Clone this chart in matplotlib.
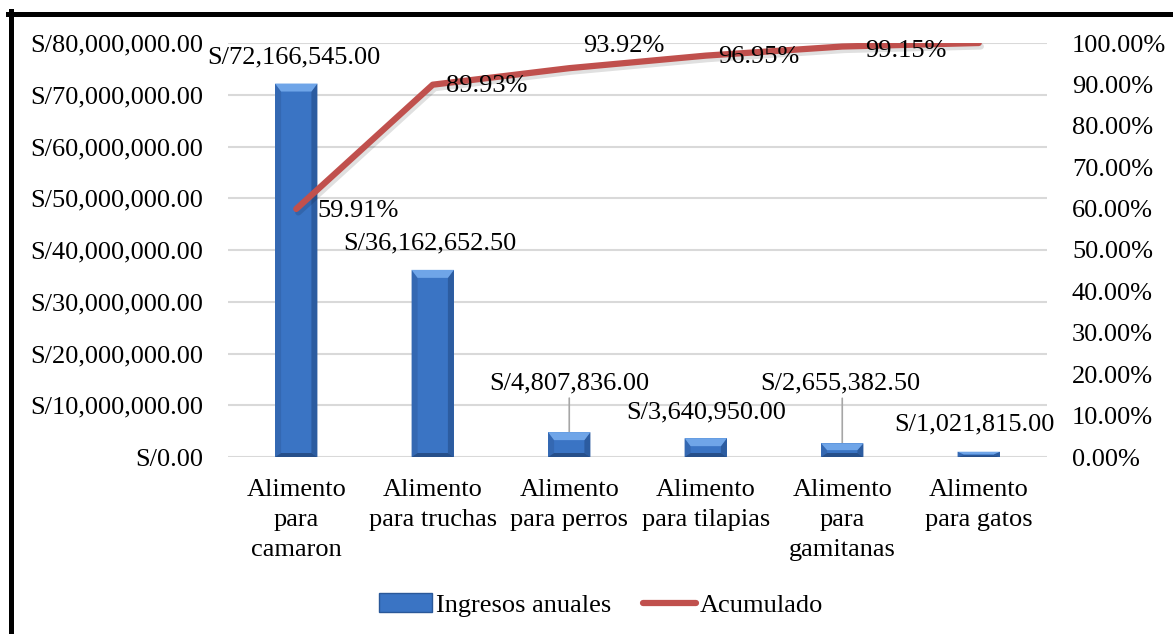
import matplotlib.pyplot as plt
import matplotlib.patheffects as pe
from matplotlib.lines import Line2D
from matplotlib.patches import Polygon, Rectangle
from matplotlib.ticker import FuncFormatter, MultipleLocator

plt.rcParams['font.family'] = ['Liberation Serif', 'DejaVu Serif']
plt.rcParams['font.size'] = 19

# Ingresos por producto
productos = ['Alimento\npara\ncamaron', 'Alimento\npara truchas', 'Alimento\npara perros',
             'Alimento\npara tilapias', 'Alimento\npara\ngamitanas', 'Alimento\npara gatos']
ingresos = [72166545.00, 36162652.50, 4807836.00, 3640950.00, 2655382.50, 1021815.00]
acumulado = [59.91, 89.93, 93.92, 96.95, 99.15, 100.00]

# posiciones de las etiquetas (desplazamiento en pixeles) y lineas guia
off_ingresos = [(-2, 26), (-3, 26), (0, 49), (0, 26), (-2, 60), (-4, 27)]
guia = [False, False, True, False, True, False]
off_acum = [(62, -2), (54, -1), (55, 22), (53, -1), (64, -4), None]

azul = '#3A74C4'
rojo = '#C0504D'
gris = '#D9D9D9'

W, H = 1173, 634
fig = plt.figure(figsize=(W / 100, H / 100), dpi=100)
ax = fig.add_axes([228 / W, 177 / H, 819 / W, 414 / H])
ax2 = ax.twinx()

x = list(range(len(productos)))
barras = ax.bar(x, ingresos, width=0.31, color=azul, zorder=2)
ax.set_xlim(-0.5, len(productos) - 0.5)
ax.set_ylim(0, 80000000)
ax.yaxis.set_major_locator(MultipleLocator(10000000))
ax.yaxis.set_major_formatter(FuncFormatter(lambda v, p: 'S/{:,.2f}'.format(v)))
ax.set_xticks(x)
ax.set_xticklabels(productos, linespacing=1.45)
ax.grid(axis='y', color=gris, linewidth=1.5, zorder=0)
ax.set_axisbelow(True)
ax.tick_params(axis='y', length=0, pad=18)
ax.tick_params(axis='x', length=0, pad=16)
for s in ax.spines.values():
    s.set_visible(False)

# efecto biselado de las barras
px_x = 6.0 / 819 * (len(productos))
px_y = 80000000 / 414
for r in barras:
    x0, y0 = r.get_x(), r.get_y()
    x1, y1 = x0 + r.get_width(), y0 + r.get_height()
    bx = px_x
    by = min(8 * px_y, r.get_height() / 2)
    bb = min(4 * px_y, r.get_height() / 3)
    ax.add_patch(Polygon([(x0, y0), (x0, y1), (x0 + bx, y1 - by), (x0 + bx, y0 + bb)],
                         color='#3468B2', lw=0, zorder=2.1))
    ax.add_patch(Polygon([(x1, y0), (x1, y1), (x1 - bx, y1 - by), (x1 - bx, y0 + bb)],
                         color='#2C5CA0', lw=0, zorder=2.1))
    ax.add_patch(Polygon([(x0, y0), (x1, y0), (x1 - bx, y0 + bb), (x0 + bx, y0 + bb)],
                         color='#264F8A', lw=0, zorder=2.1))
    ax.add_patch(Polygon([(x0, y1), (x1, y1), (x1 - bx, y1 - by), (x0 + bx, y1 - by)],
                         color='#6FA5E8', lw=0, zorder=2.1))

# etiquetas de ingresos
for i, v in enumerate(ingresos):
    dx, dy = off_ingresos[i]
    ax.annotate('S/{:,.2f}'.format(v), xy=(i, v), xytext=(dx, dy),
                textcoords='offset pixels', ha='center', va='center', zorder=5)
    if guia[i]:
        ax.annotate('', xy=(i, v), xytext=(0, dy - 15), textcoords='offset pixels',
                    arrowprops=dict(arrowstyle='-', color='#A6A6A6', lw=1.2,
                                    shrinkA=0, shrinkB=0), zorder=1.5)

# curva acumulada
ax2.plot(x, acumulado, color=rojo, lw=4.5, solid_capstyle='round', zorder=3,
         path_effects=[pe.SimpleLineShadow(offset=(1.5, -2.5), alpha=0.12, shadow_color='black'),
                       pe.Normal()])
ax2.set_ylim(0, 100)
ax2.yaxis.set_major_locator(MultipleLocator(10))
ax2.yaxis.set_major_formatter(FuncFormatter(lambda v, p: '{:.2f}%'.format(v)))
ax2.tick_params(axis='y', length=0, pad=18)
for s in ax2.spines.values():
    s.set_visible(False)

for i, v in enumerate(acumulado):
    if off_acum[i] is None:
        continue
    ax2.annotate('{:.2f}%'.format(v), xy=(i, v), xytext=off_acum[i],
                 textcoords='offset pixels', ha='center', va='center', zorder=5)

# leyenda
h_bar = Rectangle((0, 0), 1, 1, facecolor=azul, edgecolor='#2A5899', lw=1)
h_lin = Line2D([0], [0], color=rojo, lw=4.5, solid_capstyle='round')
fig.legend([h_bar, h_lin], ['Ingresos anuales', 'Acumulado'], loc='center',
           bbox_to_anchor=(601 / W, 29 / H), ncol=2, frameon=False,
           handlelength=2.0, handletextpad=0.15, columnspacing=1.2)

# marco
fig.add_artist(Line2D([10.5 / W, 10.5 / W], [0, 1 - 11 / H], color='black', lw=3.6,
                      transform=fig.transFigure))
fig.add_artist(Line2D([8 / W, 1], [1 - 13.5 / H, 1 - 13.5 / H], color='black', lw=3.6,
                      transform=fig.transFigure))

fig.savefig('out.png', dpi=100)
